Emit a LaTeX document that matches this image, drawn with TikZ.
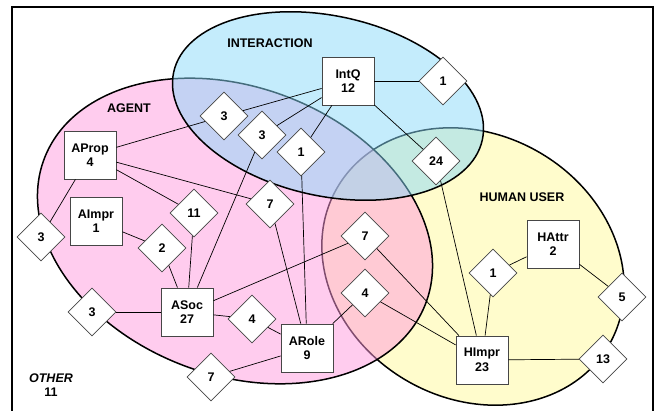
\documentclass[tikz,border=0pt]{standalone}
\usepackage{fontspec}
\setmainfont{Liberation Sans}
\usepackage{tikz}
\usetikzlibrary{shapes,positioning}

\definecolor{agentpink}{RGB}{255,153,221}
\definecolor{interblue}{RGB}{137,217,249}
\definecolor{useryellow}{RGB}{255,249,153}
\definecolor{edgegray}{RGB}{70,70,70}

\tikzstyle{block} = [rectangle, draw=edgegray, fill=white, line width=0.8pt,
    minimum width=52pt, minimum height=48pt, inner sep=1pt, align=center,
    font=\bfseries\fontsize{12.5}{14.5}\selectfont]
\tikzstyle{rel} = [diamond, draw=edgegray, fill=white, line width=0.8pt, aspect=1,
    minimum width=48pt, minimum height=48pt, inner sep=0pt,
    font=\bfseries\fontsize{12.5}{14.5}\selectfont]
\tikzstyle{area} = [fill opacity=0.5, draw=black, line width=1.5pt]
\tikzstyle{title} = [font=\bfseries\fontsize{12.5}{14.5}\selectfont, align=center]
\tikzstyle{link} = [black, line width=0.7pt]

\begin{document}
\begin{tikzpicture}[x=1pt, y=-1pt]
  \useasboundingbox (0,0) rectangle (655,411);
  \draw [line width=1.6pt] (12,411) |- (653,7) -- (653,411);

  \draw [area, fill=useryellow, shift={(473,266.5)}, rotate=-30]
    (0,0) ellipse [x radius=157pt, y radius=132pt];
  \draw [area, fill=agentpink, shift={(235,231)}, rotate=-20.7]
    (0,0) ellipse [x radius=204pt, y radius=144pt];
  \draw [area, fill=interblue, shift={(328,106)}, rotate=-12.4]
    (0,0) ellipse [x radius=158pt, y radius=90pt];

  \node [title] (interaction) at (270,43) {INTERACTION};
  \node [title] (agent) at (129,108) {AGENT};
  \node [title] (human) at (522,197) {HUMAN USER};
  \node [title] (other) at (51,385) {\textit{OTHER}\\11};

  \node [block] (aprop) at (90,155) {AProp\\4};
  \node [block] (aimpr) at (96,221) {AImpr\\1};
  \node [block] (asoc) at (187,312) {ASoc\\27};
  \node [block] (arole) at (307,348) {ARole\\9};
  \node [block] (intq) at (348,81) {IntQ\\12};
  \node [block] (himpr) at (482,360) {HImpr\\23};
  \node [block] (hattr) at (553,244) {HAttr\\2};

  \node [rel] (r3a) at (41,237) {3};
  \node [rel] (r3b) at (92,312) {3};
  \node [rel] (r2) at (162,248) {2};
  \node [rel] (r11) at (194,213) {11};
  \node [rel] (r7a) at (270,204) {7};
  \node [rel] (r3c) at (224,116) {3};
  \node [rel] (r3d) at (262,135) {3};
  \node [rel] (r1a) at (301,152) {1};
  \node [rel] (r1b) at (443,81) {1};
  \node [rel] (r24) at (436,161) {24};
  \node [rel] (r7b) at (365,236) {7};
  \node [rel] (r4a) at (365,293) {4};
  \node [rel] (r4b) at (252,319) {4};
  \node [rel] (r7c) at (211,377) {7};
  \node [rel] (r1c) at (493,273) {1};
  \node [rel] (r5) at (622,297) {5};
  \node [rel] (r13) at (603,359) {13};

  \draw [link] (aprop) to (r3a);
  \draw [link] (aprop) to (r3c);
  \draw [link] (aprop) to (r7a);
  \draw [link] (aprop) to (r11);
  \draw [link] (aimpr) to (r2);
  \draw [link] (asoc) to (r2);
  \draw [link] (asoc) to (r11);
  \draw [link] (asoc) to (r3b);
  \draw [link] (asoc) to (r3d);
  \draw [link] (asoc) to (r7b);
  \draw [link] (asoc) to (r4b);
  \draw [link] (arole) to (r7a);
  \draw [link] (arole) to (r1a);
  \draw [link] (arole) to (r4a);
  \draw [link] (arole) to (r4b);
  \draw [link] (arole) to (r7c);
  \draw [link] (intq) to (r3c);
  \draw [link] (intq) to (r3d);
  \draw [link] (intq) to (r1a);
  \draw [link] (intq) to (r1b);
  \draw [link] (intq) to (r24);
  \draw [link] (himpr) to (r24);
  \draw [link] (himpr) to (r7b);
  \draw [link] (himpr) to (r4a);
  \draw [link] (himpr) to (r1c);
  \draw [link] (himpr) to (r13);
  \draw [link] (hattr) to (r1c);
  \draw [link] (hattr) to (r5);
\end{tikzpicture}
\end{document}
